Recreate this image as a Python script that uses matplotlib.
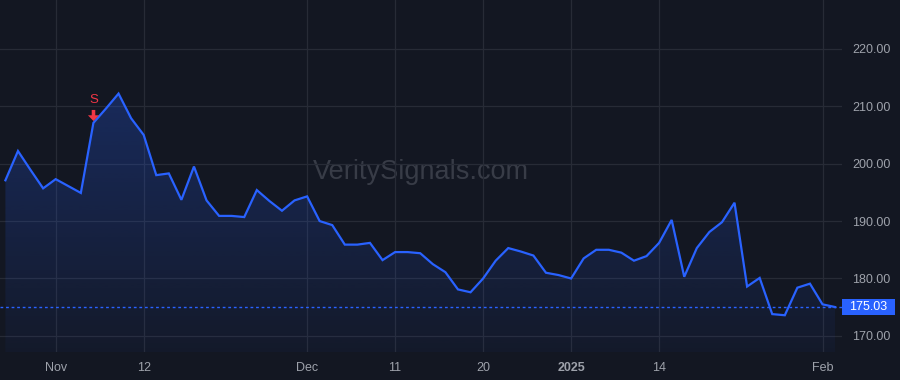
import numpy as np
import matplotlib
matplotlib.use("Agg")
import matplotlib.pyplot as plt
import matplotlib.transforms as mtransforms
from matplotlib.patches import Rectangle
from matplotlib.path import Path

# daily closes, trading days Oct 28 2024 .. Feb 4 2025
closes = [197.1, 202.2, 198.9, 195.7, 197.3, 196.1, 194.9, 207.1, 209.6, 212.2,
          207.9, 205.0, 198.0, 198.3, 193.7, 199.5, 193.6, 190.9, 190.9, 190.7,
          195.4, 193.5, 191.8, 193.6, 194.3, 190.0, 189.3, 185.9, 185.9, 186.2,
          183.2, 184.6, 184.6, 184.4, 182.5, 181.1, 178.1, 177.6, 180.0, 183.1,
          185.3, 184.7, 184.0, 181.0, 180.6, 180.0, 183.5, 185.0, 185.0, 184.5,
          183.1, 183.9, 186.2, 190.2, 180.3, 185.3, 188.1, 189.8, 193.2, 178.6,
          180.1, 173.8, 173.6, 178.4, 179.1, 175.5, 175.03]
tick_idx = [4, 11, 24, 31, 38, 45, 52, 65]
tick_labels = ['Nov', '12', 'Dec', '11', '20', '2025', '14', 'Feb']
price_ticks = [170, 180, 190, 200, 210, 220]
sell_idx = 7
watermark = 'VeritySignals.com'

BG = '#131722'
GRID = '#272b36'
TXT = '#9ea2ab'
BLUE = '#2962ff'
RED = '#f23645'

plt.rcParams['font.family'] = ['Liberation Sans', 'DejaVu Sans']

fig = plt.figure(figsize=(9, 3.8), dpi=100, facecolor=BG)
ax = fig.add_axes([0, 28 / 380, 842 / 900, 352 / 380])
ax.set_facecolor(BG)

x = np.arange(len(closes))
ylo, yhi = 167.2, 228.5
xlo, xhi = -0.43, 66.55

# gradient fill under the line
poly = ax.fill_between(x, closes, ylo, facecolor='none', edgecolor='none')
top = max(closes)
grad = np.zeros((256, 1, 4))
grad[:, 0, 0] = 41 / 255
grad[:, 0, 1] = 98 / 255
grad[:, 0, 2] = 1.0
grad[:, 0, 3] = np.linspace(0.04, 0.26, 256)
im = ax.imshow(grad, extent=[x[0], x[-1], ylo, top], origin='lower',
               aspect='auto', zorder=1, interpolation='bilinear')
im.set_clip_path(poly.get_paths()[0], transform=ax.transData)

ax.plot(x, closes, color=BLUE, lw=1.6, zorder=3, solid_joinstyle='miter')
ax.axhline(closes[-1], color=BLUE, lw=1.0, ls=(0, (2.0, 2.0)), zorder=2)

ax.set_xlim(xlo, xhi)
ax.set_ylim(ylo, yhi)

ax.set_xticks(tick_idx)
ax.set_xticklabels(tick_labels)
for lab in ax.get_xticklabels():
    if lab.get_text() == '2025':
        lab.set_fontweight('bold')
ax.set_yticks(price_ticks)
ax.set_yticklabels([f'{v:.2f}' for v in price_ticks])
ax.yaxis.tick_right()
ax.tick_params(axis='both', length=0, colors=TXT, labelsize=9)
ax.tick_params(axis='y', pad=7.5)
ax.tick_params(axis='x', pad=7)
ax.grid(True, color=GRID, lw=0.9, zorder=0)
ax.set_axisbelow(True)
for s in ax.spines.values():
    s.set_visible(False)

# watermark
ax.text(0.5, 0.51, watermark, transform=ax.transAxes, ha='center', va='center',
        fontsize=19.5, color='#383c47', zorder=0.5)

# sell signal: down arrow + "S" above the bar
arrow = Path([(-0.16, 0.5), (0.16, 0.5), (0.16, 0.02), (0.5, 0.02), (0.0, -0.5),
              (-0.5, 0.02), (-0.16, 0.02), (-0.16, 0.5)], closed=True)
up = lambda pts: ax.transData + mtransforms.ScaledTranslation(0, pts / 72, fig.dpi_scale_trans)
ax.plot([sell_idx], [closes[sell_idx]], marker=arrow, markersize=8.0, color=RED,
        markeredgewidth=0, linestyle='none', zorder=4, transform=up(5.5))
ax.text(sell_idx, closes[sell_idx], 'S', color=RED, fontsize=9.5, ha='center',
        va='center', zorder=4, transform=up(16.5))

# last price label
tr = mtransforms.blended_transform_factory(fig.transFigure, ax.transData)
bh = 16 / (352 / (yhi - ylo))
fig.patches.append(Rectangle((842 / 900, closes[-1] - bh / 2), 53 / 900, bh,
                             transform=tr, facecolor=BLUE, edgecolor='none'))
fig.text(868 / 900, closes[-1], f'{closes[-1]:.2f}', transform=tr, ha='center',
         va='center', color='white', fontsize=9)

fig.savefig('out.png', dpi=100, facecolor=BG)
